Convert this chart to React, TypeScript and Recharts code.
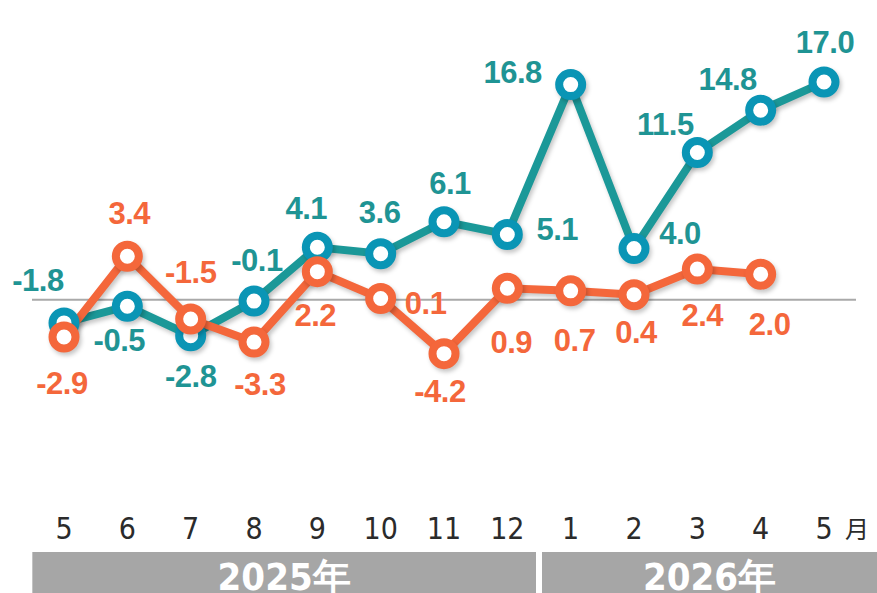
import { LineChart, Line, XAxis, YAxis, ReferenceLine } from 'recharts';

const monthKeys = ['2025-05', '2025-06', '2025-07', '2025-08', '2025-09', '2025-10', '2025-11', '2025-12', '2026-01', '2026-02', '2026-03', '2026-04', '2026-05'];
const monthLabels = ['5', '6', '7', '8', '9', '10', '11', '12', '1', '2', '3', '4', '5'];
const tealValues = [-1.8, -0.5, -2.8, -0.1, 4.1, 3.6, 6.1, 5.1, 16.8, 4.0, 11.5, 14.8, 17.0];
const orangeValues = [-2.9, 3.4, -1.5, -3.3, 2.2, 0.1, -4.2, 0.9, 0.7, 0.4, 2.4, 2.0, null];
const yearLabels = ['2025年', '2026年'];
const yearStart = [0, 8];
const yearCount = [8, 5];
const unitLabel = '月';

// label offsets from the point (centre of text), per series
const tealOffsets = [[-26, -43], [-8, 34], [0, 40], [3, -41], [-11, -39], [-1, -42], [6, -39], [50, -6], [-58, -13], [46, -16], [-32, -29], [-33, -31], [1, -40]];
const orangeOffsets = [[-2, 46], [2, -43], [0, -47], [6, 42], [-2, 43], [45, 4], [-4, 37], [4, 54], [4, 49], [2, 37], [5, 46], [9, 50]];

const data = monthKeys.map((key, i) => ({ key, teal: tealValues[i], orange: orangeValues[i] }));

const W = 877;
const H = 593;
const margin = { top: 18, right: 21, left: 32, bottom: 0 };
const pad = 32;
const step = (W - margin.left - margin.right - 2 * pad) / (monthKeys.length - 1);

const TEAL_LINE = '#1b9898';
const TEAL_DOT = '#0a95b5';
const TEAL_TEXT = '#1f9494';
const ORANGE = '#f4673b';
const tickFont = "'DejaVu Sans Condensed', 'Liberation Sans Narrow', 'DejaVu Sans', sans-serif";
const labelFont = "'Liberation Sans', Arial, sans-serif";

function MonthTick(props: any) {
  const { x, y, index } = props;
  const yi = yearStart.indexOf(index);
  let band = null;
  if (yi >= 0) {
    const left = x - step / 2 + (yi > 0 ? 3 : 0);
    const right = yi < yearStart.length - 1 ? x - step / 2 + yearCount[yi] * step - 3 : W;
    band = (
      <g>
        <rect x={left} y={y + 52} width={right - left} height={H - y - 52} fill="#a6a6a6" />
        <text x={(left + right) / 2} y={y + 90} textAnchor="middle" fill="#fff" fontSize={38} fontWeight="bold" fontFamily={tickFont} style={{ fontStretch: 'condensed' }}>
          {yearLabels[yi]}
        </text>
      </g>
    );
  }
  return (
    <g>
      {band}
      <text x={x} y={y + 39} textAnchor="middle" fill="#2b2b2b" fontSize={30} fontFamily={tickFont} style={{ fontStretch: 'condensed' }}>
        {monthLabels[index]}
      </text>
      {index === monthLabels.length - 1 && (
        <text x={x + 33} y={y + 38} textAnchor="middle" fill="#2b2b2b" fontSize={24} fontFamily="'Noto Sans CJK JP', sans-serif">
          {unitLabel}
        </text>
      )}
    </g>
  );
}

function makeLabel(offsets: number[][], color: string) {
  return (props: any) => {
    const { x, y, index, value } = props;
    if (value == null || !offsets[index]) return null;
    const [dx, dy] = offsets[index];
    return (
      <text x={x + dx} y={y + dy + 11} textAnchor="middle" fill={color} fontSize={31} fontWeight="bold" fontFamily={labelFont} letterSpacing={-0.5}>
        {value.toFixed(1)}
      </text>
    );
  };
}

export default function App() {
  return (
    <div style={{ position: 'absolute', left: 0, top: 0, width: W, height: H, background: '#fff' }}>
      <style>{`.recharts-line-curve, .recharts-line-dots { filter: drop-shadow(2px 3px 2px rgba(0,0,0,0.22)); }`}</style>
      <LineChart width={W} height={H} data={data} margin={margin}>
        <XAxis dataKey="key" axisLine={false} tickLine={false} interval={0} height={101} padding={{ left: pad, right: pad }} tick={<MonthTick />} />
        <YAxis hide domain={[-15, 22]} />
        <ReferenceLine y={0} stroke="#a9a9a9" strokeWidth={2} />
        <Line
          dataKey="teal"
          stroke={TEAL_LINE}
          strokeWidth={8}
          dot={{ r: 11.5, strokeWidth: 8, fill: '#fff', stroke: TEAL_DOT }}
          activeDot={false}
          label={makeLabel(tealOffsets, TEAL_TEXT)}
          isAnimationActive={false}
        />
        <Line
          dataKey="orange"
          stroke={ORANGE}
          strokeWidth={8}
          dot={{ r: 11.5, strokeWidth: 8, fill: '#fff', stroke: ORANGE }}
          activeDot={false}
          label={makeLabel(orangeOffsets, ORANGE)}
          isAnimationActive={false}
        />
      </LineChart>
    </div>
  );
}
